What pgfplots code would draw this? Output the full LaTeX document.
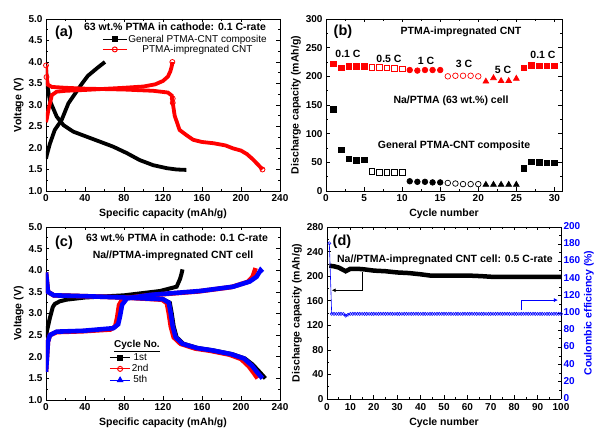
\documentclass[border=0pt]{standalone}
\usepackage{fontspec}
\setmainfont{Liberation Sans}
\usepackage{pgfplots}
\pgfplotsset{compat=1.18}
\usetikzlibrary{arrows.meta}

\pgfplotsset{
  panel/.style={
    scale only axis,
    anchor=south west,
    tick align=inside,
    minor tick num=1,
    major tick length=3.5pt,
    minor tick length=2pt,
    every tick/.style={black, line width=0.7pt},
    axis line style={line width=0.9pt},
    tick label style={font=\fontsize{10}{11}\selectfont\bfseries},
    label style={font=\fontsize{10.5}{12}\selectfont\bfseries},
    /pgf/number format/assume math mode=true,
  },
  volt/.style={
    xmin=0, xmax=240, xtick={0,40,80,120,160,200,240},
    ymin=1, ymax=5, ytick={1.0,1.5,2.0,2.5,3.0,3.5,4.0,4.5,5.0},
    yticklabel style={/pgf/number format/.cd,fixed,fixed zerofill,precision=1},
    xlabel={Specific capacity (mAh/g)},
    ylabel={Voltage (V)},
    ylabel style={yshift=-2pt},
    legend image code/.code={\draw[mark repeat=2,mark phase=2,##1] plot coordinates {(0cm,0cm) (0.42cm,0cm) (0.84cm,0cm)};},
  },
}
\newcommand{\ann}{\fontsize{10.5}{12}\selectfont\bfseries}
\newcommand{\lab}{\fontsize{14.5}{16}\selectfont\bfseries}

\begin{document}
\begin{tikzpicture}
\path[use as bounding box] (0,0) rectangle (595pt,428pt);

% ---------- (a)
\begin{axis}[panel, volt, at={(46pt,237pt)}, width=234pt, height=172pt,
  legend style={draw=none, fill=none, at={(rel axis cs:0.24,0.915)}, anchor=north west,
    font=\fontsize{10}{11}\selectfont, row sep=-0.5pt, inner sep=0pt,
    nodes={inner sep=1pt}}]
\addlegendimage{black, line width=1pt, mark=square*, mark size=2.2pt}
\addlegendentry{General PTMA-CNT composite}
\addlegendimage{red, line width=1pt, mark=o, mark size=2.5pt, mark options={fill=white}}
\addlegendentry{PTMA-impregnated CNT}
% black charge
\addplot[black, line width=3.8pt, forget plot] coordinates {
  (0,1.75) (1,1.85) (4,2.1) (9,2.42) (16,2.65) (23,3.04) (30,3.27) (37,3.5)
  (43,3.68) (52,3.85) (57,3.94) (60.5,4.0) };
% black discharge
\addplot[black, line width=3.8pt, forget plot] coordinates {
  (0,3.85) (1,3.5) (4,3.1) (11,2.73) (18,2.53) (28,2.38) (42,2.26) (55,2.15)
  (69,2.03) (83,1.88) (96,1.72) (110,1.6) (124,1.53) (134,1.5) (144,1.49) };
% red charge
\addplot[red, line width=3.8pt, forget plot] coordinates {
  (0,2.6) (1,2.7) (2.4,2.88) (6,3.23) (11,3.31) (20,3.33) (40,3.35) (80,3.4)
  (100,3.43) (112,3.48) (120,3.56) (125,3.66) (127.5,3.78) (129,3.9) (129.6,4.0) };
% red discharge
\addplot[red, line width=3.8pt, forget plot] coordinates {
  (0,3.92) (0.5,3.65) (2,3.47) (6,3.42) (20,3.4) (40,3.38) (80,3.36) (110,3.33)
  (125,3.29) (129,3.22) (130,3.05) (132,2.75) (137,2.42) (144,2.3) (151,2.19)
  (160,2.14) (172,2.11) (184,2.06) (192,1.99) (200,1.94) (206,1.86) (212,1.74)
  (218,1.6) (222,1.5) };
\addplot[red, only marks, mark=o, mark size=2.5pt, line width=0.8pt, mark options={fill=white}, forget plot]
  coordinates {(0,3.92) (0.5,3.65) (129.6,4.0) (130,3.15) (130,3.05) (222,1.5)};
\end{axis}

% ---------- (b)
\begin{axis}[panel, at={(326pt,237pt)}, width=236pt, height=172pt,
  xmin=0, xmax=31, xtick={0,5,...,30},
  ymin=0, ymax=300, ytick={0,50,...,300},
  xlabel={Cycle number}, ylabel={Discharge capacity (mAh/g)},
  ylabel style={yshift=-2pt},
  every axis plot/.append style={only marks, mark size=2.8pt, line width=0.7pt}]
\addplot[red, mark=square*] coordinates {(1,222) (2,215) (3,217) (4,217) (5,217)};
\addplot[red, mark=square, mark options={fill=white}] coordinates {(6,216) (7,216) (8,215) (9,214) (10,213)};
\addplot[red, mark=*] coordinates {(11,211) (12,210) (13,211) (14,211) (15,211)};
\addplot[red, mark=o, mark options={fill=white}] coordinates {(16,200) (17,201) (18,201) (19,201) (20,200)};
\addplot[red, mark=triangle*, mark size=3.3pt] coordinates {(21,191) (22,197) (23,192) (24,192) (25,196)};
\addplot[red, mark=square*] coordinates {(26,215) (27,219) (28,218) (29,218) (30,218)};
\addplot[black, mark=square*] coordinates {(1,142) (2,72) (3,56) (4,53) (5,54)};
\addplot[black, mark=square, mark options={fill=white}] coordinates {(6,34) (7,33) (8,33) (9,33) (10,32)};
\addplot[black, mark=*] coordinates {(11,17) (12,16) (13,16) (14,15) (15,15)};
\addplot[black, mark=o, mark options={fill=white}] coordinates {(16,14) (17,13) (18,12) (19,12) (20,12)};
\addplot[black, mark=triangle*, mark size=3.3pt] coordinates {(21,11) (22,11) (23,11) (24,11) (25,11)};
\addplot[black, mark=square*] coordinates {(26,39) (27,51) (28,50) (29,49) (30,49)};
\end{axis}

% ---------- (c)
\begin{axis}[panel, volt, at={(46pt,28pt)}, width=234pt, height=173pt,
  legend style={draw=none, fill=none, at={(rel axis cs:0.27,0.275)}, anchor=north west,
    font=\fontsize{10}{11}\selectfont, row sep=0.5pt, inner sep=0pt,
    nodes={inner sep=1pt}},
  legend image code/.code={\draw[mark repeat=2,mark phase=2,#1] plot coordinates {(0cm,0cm) (0.36cm,0cm) (0.72cm,0cm)};}]
\addlegendimage{black, line width=1pt, mark=square*, mark size=2.2pt}
\addlegendentry{1st}
\addlegendimage{red, line width=1pt, mark=o, mark size=2.5pt, mark options={fill=white}}
\addlegendentry{2nd}
\addlegendimage{blue, line width=1pt, mark=triangle*, mark size=3pt}
\addlegendentry{5th}
% 1st cycle
\addplot[black, line width=4pt, forget plot] coordinates {
  (0,2.45) (1,2.6) (4,2.9) (7,3.15) (9,3.22) (14,3.28) (21,3.32) (40,3.37) (80,3.42)
  (117,3.52) (134,3.62) (137.5,3.8) (139,3.92) (140,4.02) };
\addplot[black, line width=4pt, forget plot] coordinates {
  (0,3.95) (2,3.5) (8,3.42) (40,3.4) (80,3.37) (120,3.33) (127,3.25) (129,3.0)
  (131,2.7) (134,2.45) (141,2.3) (156,2.2) (171,2.15) (191,2.06) (204,1.96)
  (212,1.82) (219,1.65) (225,1.5) };
% 2nd cycle
\addplot[red, line width=4.6pt, forget plot] coordinates {
  (0,1.65) (1,2.0) (2,2.35) (4,2.5) (11,2.57) (38,2.59) (66,2.63) (71,2.7) (73,2.9)
  (75,3.2) (79,3.35) (105,3.42) (156,3.51) (190,3.61) (207,3.73) (212,3.85) (215,4.05) };
\addplot[red, line width=4.6pt, forget plot] coordinates {
  (0,3.95) (2,3.5) (8,3.42) (40,3.4) (80,3.37) (119,3.32) (124,3.24) (126,3.0)
  (128,2.7) (131,2.45) (138,2.3) (153,2.19) (168,2.14) (188,2.05) (200,1.95)
  (208,1.78) (213,1.63) (217,1.5) };
% 5th cycle
\addplot[blue, line width=4.6pt, forget plot] coordinates {
  (0,1.65) (1,2.0) (2,2.35) (4,2.5) (11,2.58) (38,2.6) (69,2.66) (74,2.75) (76,2.95)
  (78,3.2) (83,3.35) (107,3.43) (158,3.52) (192,3.62) (209,3.74) (216,3.85) (220,4.0) (222,3.95) };
\addplot[blue, line width=4.6pt, forget plot] coordinates {
  (0,3.95) (2,3.5) (8,3.42) (40,3.4) (80,3.37) (120,3.33) (126,3.25) (128,3.0)
  (130,2.7) (133,2.45) (140,2.3) (155,2.2) (170,2.15) (190,2.06) (203,1.96)
  (211,1.8) (217,1.63) (222,1.5) };
\end{axis}

% ---------- (d) left
\begin{axis}[panel, at={(327pt,29pt)}, width=234pt, height=172pt,
  axis y line*=left,
  xmin=0, xmax=100, xtick={0,10,...,100},
  xticklabel style={yshift=-1pt},
  ymin=0, ymax=280, ytick={0,40,...,280},
  xlabel={Cycle number}, ylabel={Discharge capacity (mAh/g)},
  ylabel style={yshift=-2pt}]
\addplot[black, line width=4.5pt] coordinates {
  (1,217) (3,216) (5,214) (6,212) (7,210) (8,208) (9,210) (10,212) (13,212) (16,211)
  (20,209) (25,208) (30,206) (35,205) (40,203) (44,201) (50,201) (60,201) (66,200)
  (70,199) (80,199) (90,199) (100,199) };
\draw[black, line width=0.9pt, -{Latex[length=4pt,width=4pt]}]
  (axis cs:15,207) -- (axis cs:15,177) -- (axis cs:2,177);
\end{axis}

% ---------- (d) right
\begin{axis}[panel, at={(327pt,29pt)}, width=234pt, height=172pt,
  axis x line=none, axis y line*=right,
  xmin=0, xmax=100,
  ymin=0, ymax=200, ytick={0,20,...,200},
  yticklabel style={blue, xshift=-1pt, yshift=1pt},
  ylabel={Coulombic efficiency (\%)}, ylabel style={blue, yshift=3pt}]
\addplot[blue, line width=0.6pt, mark=o, mark size=1.6pt, mark options={fill=white, line width=0.5pt}] coordinates {
  (1,181) (2,99) (3,99) (4,99) (5,99) (6,99) (7,99) (8,97) (9,98) (10,99)
  (11,99) (12,99) (13,99) (14,99) (15,99) (16,99) (17,99) (18,99) (19,99) (20,99)
  (21,99) (22,99) (23,99) (24,99) (25,99) (26,99) (27,99) (28,99) (29,99) (30,99)
  (31,99) (32,99) (33,99) (34,99) (35,99) (36,99) (37,99) (38,99) (39,99) (40,99)
  (41,99) (42,99) (43,99) (44,99) (45,99) (46,99) (47,99) (48,99) (49,99) (50,99)
  (51,99) (52,99) (53,99) (54,99) (55,99) (56,99) (57,99) (58,99) (59,99) (60,99)
  (61,99) (62,99) (63,99) (64,99) (65,99) (66,99) (67,99) (68,99) (69,99) (70,99)
  (71,99) (72,99) (73,99) (74,99) (75,99) (76,99) (77,99) (78,99) (79,99) (80,99)
  (81,99) (82,99) (83,99) (84,99) (85,99) (86,99) (87,99) (88,99) (89,99) (90,99)
  (91,99) (92,99) (93,99) (94,99) (95,99) (96,99) (97,99) (98,99) (99,99) (100,99) };
\draw[blue, line width=0.9pt, -{Latex[length=4pt,width=4pt]}]
  (axis cs:83.3,103) -- (axis cs:83.3,115) -- (axis cs:98.7,115);
\end{axis}

% ---------- annotations
\node[font=\lab] at (64pt,395pt) {(a)};
\node[font=\ann] at (175pt,401pt) {63 wt.\% PTMA in cathode: 0.1 C-rate};

\node[font=\lab] at (343pt,396pt) {(b)};
\node[font=\ann] at (461pt,396pt) {PTMA-impregnated CNT};
\node[font=\ann] at (348pt,374pt) {0.1 C};
\node[font=\ann] at (389pt,369pt) {0.5 C};
\node[font=\ann] at (426pt,367pt) {1 C};
\node[font=\ann] at (464pt,364pt) {3 C};
\node[font=\ann] at (503pt,358pt) {5 C};
\node[font=\ann] at (543pt,373pt) {0.1 C};
\node[font=\ann] at (451pt,327pt) {Na/PTMA (63 wt.\%) cell};
\node[font=\ann] at (454pt,282pt) {General PTMA-CNT composite};

\node[font=\lab] at (64pt,185pt) {(c)};
\node[font=\ann] at (177pt,190pt) {63 wt.\% PTMA in cathode: 0.1 C-rate};
\node[font=\ann] at (173pt,172pt) {Na//PTMA-impregnated CNT cell};
\node[font=\fontsize{10}{11}\selectfont\bfseries] at (137pt,82pt) {\underline{Cycle No.}};

\node[font=\lab] at (342pt,186pt) {(d)};
\node[font=\ann] at (445pt,168pt) {Na//PTMA-impregnated CNT cell: 0.5 C-rate};
\end{tikzpicture}
\end{document}
